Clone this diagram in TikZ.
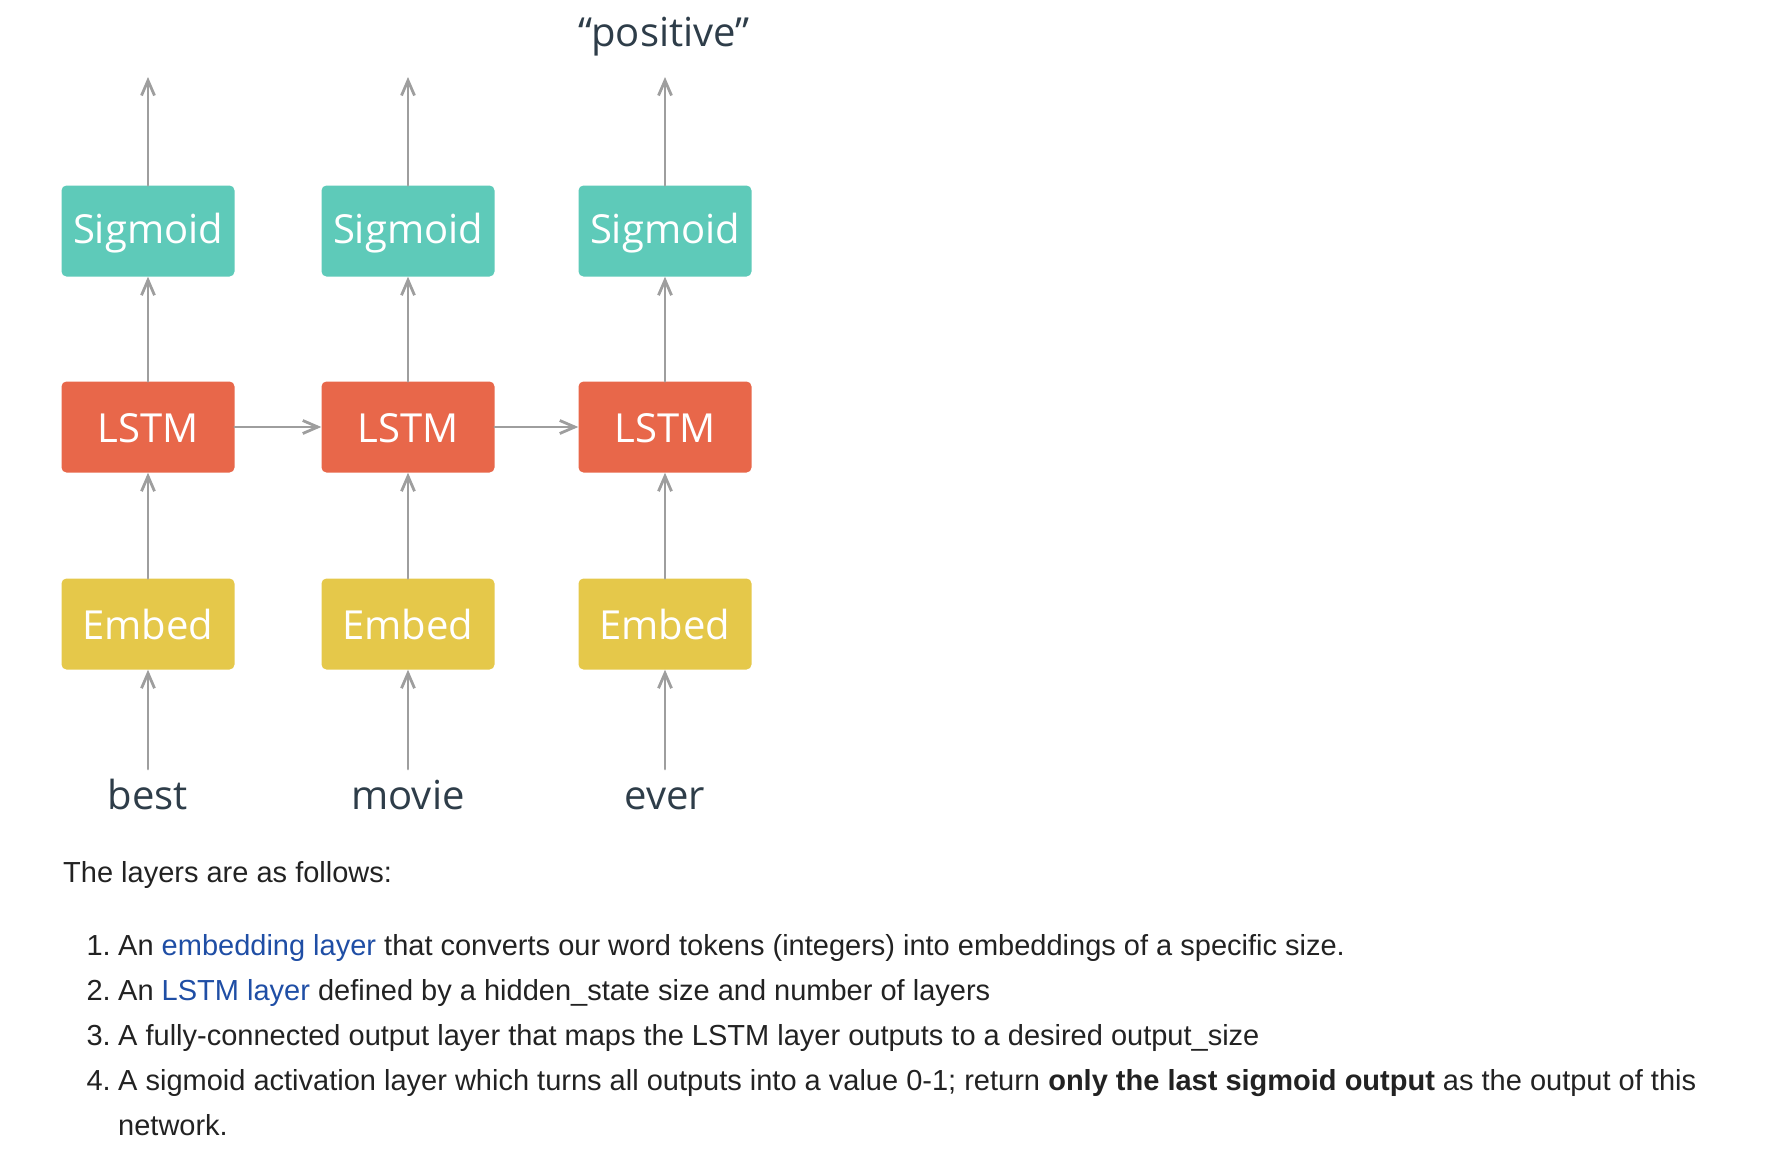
\documentclass[tikz,border=0pt]{standalone}
\usepackage{fontspec}
\setmainfont{Liberation Sans}
\newfontfamily\boxfont{Open Sans}
\usetikzlibrary{arrows.meta,positioning}
\definecolor{sigcol}{HTML}{5ECAB9}
\definecolor{lstmcol}{HTML}{E8674A}
\definecolor{embcol}{HTML}{E5C84A}
\definecolor{wordcol}{HTML}{2E3D49}
\definecolor{arrcol}{HTML}{9E9E9E}
\definecolor{txtcol}{HTML}{222222}
\definecolor{linkcol}{HTML}{1F4EA5}
\begin{document}
\begin{tikzpicture}[x=1pt, y=-1pt, line join=round, line cap=round,
	>={Straight Barb[length=15pt,width=13pt]},
	box/.style={rounded corners=5pt, minimum width=173pt, minimum height=91pt, inner sep=0pt,
		text=white, text height=30pt, text depth=0pt, font=\boxfont\fontsize{40}{40}\selectfont},
	sigbox/.style={box, fill=sigcol, text depth=6pt},
	lstmbox/.style={box, fill=lstmcol},
	embbox/.style={box, fill=embcol},
	arr/.style={->, draw=arrcol, line width=2.8pt},
	word/.style={anchor=base, inner sep=0pt, text=wordcol, font=\boxfont\fontsize{40}{40}\selectfont},
	txt/.style={anchor=base west, inner sep=0pt, text=txtcol, font=\fontsize{29}{34}\selectfont},
	num/.style={txt, anchor=base east}]
	\useasboundingbox (0,0) rectangle (1770,1154);
	% the three time steps
	\foreach \x/\w [count=\i] in {148/best,408/movie,665/ever} {
		\node[sigbox] (sig\i) at (\x,231) {Sigmoid};
		\node[lstmbox] (lstm\i) at (\x,427) {LSTM};
		\node[embbox] (emb\i) at (\x,624) {Embed};
		\node[word] (w\i) at (\x,809) {\w};
		\coordinate (out\i) at (\x,77);
		\coordinate (in\i) at (\x,769);
		\draw[arr] (in\i)--(emb\i);
		\draw[arr] (emb\i)--(lstm\i);
		\draw[arr] (lstm\i)--(sig\i);
		\draw[arr] (sig\i)--(out\i);
	}
	\draw[arr] (lstm1)--(lstm2);
	\draw[arr] (lstm2)--(lstm3);
	\node[word] (pos) at (664,46) {“positive”};
	% text below
	\node[txt] (intro) at (63,882) {The layers are as follows:};
	\foreach \i/\y in {1/955,2/1000,3/1045,4/1090} \node[num] (n\i) at (111,\y) {\i.};
	\node[txt] (it1) at (118,955) {An \textcolor{linkcol}{embedding layer} that converts our word tokens (integers) into embeddings of a specific size.};
	\node[txt] (it2) at (118,1000) {An \textcolor{linkcol}{LSTM layer} defined by a hidden\_state size and number of layers};
	\node[txt] (it3) at (118,1045) {A fully-connected output layer that maps the LSTM layer outputs to a desired output\_size};
	\node[txt] (it4) at (118,1090) {A sigmoid activation layer which turns all outputs into a value 0-1; return \textbf{only the last sigmoid output} as the output of this};
	\node[txt] (it4b) at (118,1135) {network.};
\end{tikzpicture}
\end{document}
